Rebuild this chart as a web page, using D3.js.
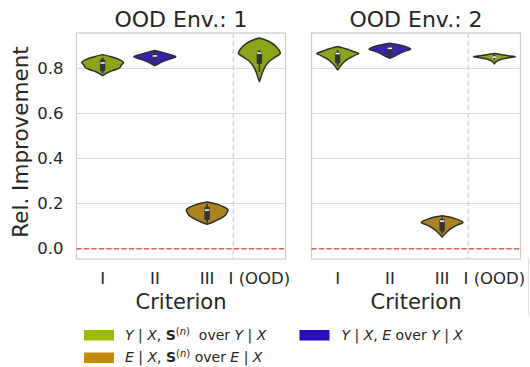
<!DOCTYPE html>
<html><head><meta charset="utf-8">
<script src="https://cdn.jsdelivr.net/npm/d3@7"></script>
<style>
html,body{margin:0;padding:0;background:#fff;}
svg{display:block;font-family:"DejaVu Sans",sans-serif;}
</style></head>
<body><svg id="c" width="530" height="367"></svg>
<script>
// ---------------- data ----------------
const categories = ["I", "II", "III", "I (OOD)"];
const envTitles = ["OOD Env.: 1", "OOD Env.: 2"];
const yTicks = [0.0, 0.2, 0.4, 0.6, 0.8];
const seriesColors = ["#9abd00", "#2b0dc0", "#c28c0a"]; // green, blue, gold
const categorySeries = [0, 1, 2, 0];

// violin outlines: [value, relative half-width]
const env1_I   = [[0.861,0],[0.852,0.4],[0.840,0.78],[0.826,1.0],[0.815,0.9],[0.803,0.82],[0.794,0.6],[0.784,0.3],[0.768,0]];
const env1_II  = [[0.879,0],[0.870,0.4],[0.862,0.7],[0.852,1.0],[0.845,0.82],[0.835,0.5],[0.825,0.25],[0.812,0]];
const env1_III = [[0.207,0],[0.201,0.3],[0.193,0.6],[0.183,0.85],[0.172,1.0],[0.160,0.95],[0.148,0.87],[0.138,0.72],[0.128,0.52],[0.118,0.3],[0.108,0]];
const env1_OOD = [[0.935,0],[0.926,0.3],[0.912,0.6],[0.895,0.82],[0.880,0.95],[0.866,1.0],[0.852,0.8],[0.837,0.55],[0.820,0.37],[0.800,0.23],[0.780,0.14],[0.760,0.07],[0.742,0]];
const env2_I   = [[0.897,0],[0.890,0.3],[0.882,0.55],[0.874,0.8],[0.866,1.0],[0.858,0.82],[0.848,0.62],[0.838,0.43],[0.825,0.27],[0.810,0.13],[0.793,0]];
const env2_II  = [[0.911,0],[0.905,0.4],[0.898,0.7],[0.890,0.93],[0.886,1.0],[0.878,0.78],[0.868,0.5],[0.858,0.3],[0.850,0.12],[0.844,0]];
const env2_III = [[0.146,0],[0.140,0.35],[0.132,0.65],[0.124,0.88],[0.116,1.0],[0.108,0.82],[0.098,0.58],[0.088,0.4],[0.076,0.25],[0.064,0.12],[0.052,0]];
const env2_OOD = [[0.866,0],[0.862,0.3],[0.857,0.6],[0.852,1.0],[0.848,0.75],[0.843,0.42],[0.836,0.2],[0.828,0.07],[0.820,0]];

// inner box stats: [whiskerLow, q1, median, q3, whiskerHigh]
const env1_box = [[0.778,0.787,0.824,0.840,0.848],[0.835,0.843,0.855,0.862,0.870],[0.115,0.126,0.171,0.186,0.198],[0.784,0.819,0.868,0.876,0.880]];
const env2_box = [[0.810,0.822,0.866,0.874,0.882],[0.852,0.859,0.889,0.899,0.905],[0.065,0.076,0.122,0.133,0.138],[0.840,0.846,0.850,0.857,0.860]];

const envShapes = [[env1_I, env1_II, env1_III, env1_OOD],[env2_I, env2_II, env2_III, env2_OOD]];
const envBoxes = [env1_box, env2_box];

// ---------------- drawing ----------------
const svg = d3.select("#c");
const txt = "#262626";
const panelX = [76.5, 311.5];
const panelW = 209;
const yTop = 33, yBottom = 259;
const y = d3.scaleLinear().domain([-0.046, 0.957]).range([yBottom, yTop]);

function desat(c, f){ const h = d3.hsl(c); h.s *= f; return h.formatHex(); }

panelX.forEach((px, e) => {
  const g = svg.append("g");
  const x = d3.scaleBand().domain(categories).range([px, px + panelW]).padding(0);
  // grid
  g.selectAll("line.grid").data(yTicks).join("line")
    .attr("x1", px).attr("x2", px + panelW)
    .attr("y1", d => y(d)).attr("y2", d => y(d))
    .attr("stroke", "#d9d9d9").attr("stroke-width", 1);
  // frame
  g.append("rect").attr("x", px).attr("y", yTop).attr("width", panelW).attr("height", yBottom - yTop)
    .attr("fill", "none").attr("stroke", "#cdcdcd").attr("stroke-width", 1.25);
  // vertical separator
  const sx = x("I (OOD)");
  g.append("line").attr("x1", sx).attr("x2", sx).attr("y1", yTop).attr("y2", yBottom)
    .attr("stroke", "#c6cde6").attr("stroke-width", 1.2).attr("stroke-dasharray", "5,3");
  // zero line
  g.append("line").attr("x1", px).attr("x2", px + panelW).attr("y1", y(0)).attr("y2", y(0))
    .attr("stroke", "#d35f5f").attr("stroke-width", 1.5).attr("stroke-dasharray", "5,2.5");

  const half = x.bandwidth() * 0.8 / 2;
  categories.forEach((cat, i) => {
    const cx = x(cat) + x.bandwidth() / 2;
    const col = desat(seriesColors[categorySeries[i]], 0.75);
    const area = d3.area()
      .y(d => y(d[0]))
      .x0(d => cx - d[1] * half)
      .x1(d => cx + d[1] * half)
      .curve(d3.curveCatmullRom.alpha(0.5));
    g.append("path").attr("d", area(envShapes[e][i]))
      .attr("fill", col).attr("stroke", "#2e2e2e").attr("stroke-width", 1.5).attr("stroke-linejoin", "round");
    const b = envBoxes[e][i];
    g.append("line").attr("x1", cx).attr("x2", cx).attr("y1", y(b[0])).attr("y2", y(b[4]))
      .attr("stroke", "#333").attr("stroke-width", 1.6);
    g.append("rect").attr("x", cx - 2.7).attr("width", 5.4)
      .attr("y", y(b[3])).attr("height", y(b[1]) - y(b[3]))
      .attr("rx", 1.6).attr("fill", "#333");
    g.append("line").attr("x1", cx - 2.2).attr("x2", cx + 2.2).attr("y1", y(b[2])).attr("y2", y(b[2]))
      .attr("stroke", "#fff").attr("stroke-width", 1.5);
  });

  // x axis
  const xa = g.append("g").attr("transform", `translate(0,${yBottom})`)
    .call(d3.axisBottom(x).tickSize(0).tickPadding(13.3));
  xa.select(".domain").remove();
  xa.selectAll("text").attr("font-size", "16.5px").attr("fill", txt).attr("font-family", "DejaVu Sans");

  if (e === 0) {
    const ya = g.append("g").attr("transform", `translate(${px},0)`)
      .call(d3.axisLeft(y).tickValues(yTicks).tickFormat(d3.format(".1f")).tickSize(0).tickPadding(13));
    ya.select(".domain").remove();
    ya.selectAll("text").attr("font-size", "16.5px").attr("fill", txt).attr("font-family", "DejaVu Sans");
  }
  // title
  g.append("text").attr("x", px + panelW / 2).attr("y", 26.5).attr("text-anchor", "middle")
    .attr("font-size", "22px").attr("fill", txt).text(envTitles[e]);
  // x label
  g.append("text").attr("x", px + panelW / 2).attr("y", 309).attr("text-anchor", "middle")
    .attr("font-size", "21px").attr("fill", txt).text("Criterion");
});

// y label
svg.append("text").attr("transform", "translate(28,142) rotate(-90)").attr("text-anchor", "middle")
  .attr("font-size", "21.5px").attr("fill", txt).text("Rel. Improvement");

// faint edge line at right border
svg.append("line").attr("x1", 528.5).attr("x2", 528.5).attr("y1", 258).attr("y2", 316)
  .attr("stroke", "#e2e2e2").attr("stroke-width", 1);

// ---------------- legend ----------------
const legendItems = [
  {c: 0, x: 84, y: 330, tx: 125, ty: 340, parts: [["Y","i"],[" | ",""],["X","i"],[", ",""],["S","b"],["(","sup"],["n","supi"],[")","sup"],["  over ",""],["Y","i"],[" | ",""],["X","i"]]},
  {c: 2, x: 84, y: 352.5, tx: 125, ty: 362, parts: [["E","i"],[" | ",""],["X","i"],[", ",""],["S","b"],["(","sup"],["n","supi"],[")","sup"],[" over ",""],["E","i"],[" | ",""],["X","i"]]},
  {c: 1, x: 299.5, y: 330, tx: 341.5, ty: 340, parts: [["Y","i"],[" | ",""],["X","i"],[", ",""],["E","i"],[" over ",""],["Y","i"],[" | ",""],["X","i"]]}
];
legendItems.forEach(it => {
  svg.append("rect").attr("x", it.x).attr("y", it.y).attr("width", 30).attr("height", 10.5)
    .attr("fill", seriesColors[it.c]);
  const t = svg.append("text").attr("x", it.tx).attr("y", it.ty).attr("font-size", "14px")
    .attr("fill", txt).style("white-space", "pre");
  let inSup = false;
  it.parts.forEach(p => {
    const ts = t.append("tspan").text(p[0]);
    const sup = p[1] === "sup" || p[1] === "supi";
    if (p[1] === "i" || p[1] === "supi") ts.attr("font-style", "italic");
    if (p[1] === "b") ts.attr("font-weight", "bold");
    if (sup) {
      ts.attr("font-size", "10px");
      if (!inSup) { ts.attr("dy", -5.5); inSup = true; }
    } else if (inSup) { ts.attr("dy", 5.5); inSup = false; }
  });
});
</script></body></html>
